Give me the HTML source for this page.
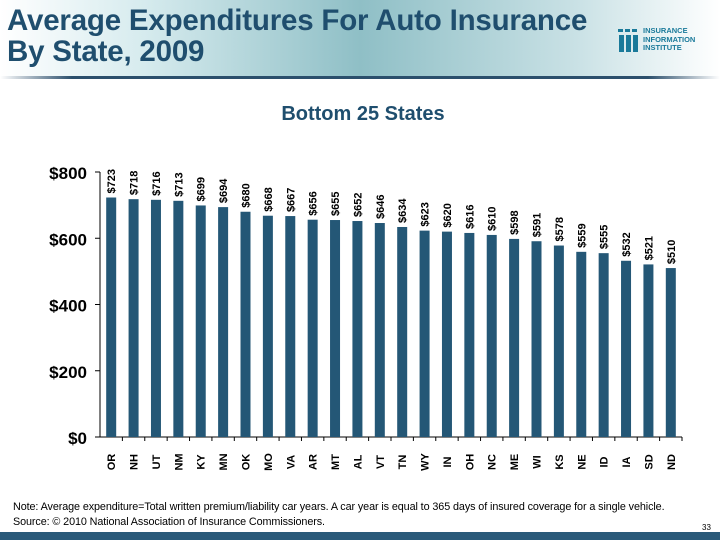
<!DOCTYPE html>
<html><head><meta charset="utf-8"><style>
body{margin:0;width:720px;height:540px;overflow:hidden;background:#fff;font-family:"Liberation Sans",sans-serif;position:relative}
#hdr{position:absolute;left:0;top:0;width:720px;height:78px;background:linear-gradient(90deg,#fff 0%,#d6ebee 20%,#8fbfc6 50%,#c9e1e5 80%,#fff 100%)}
#hdr-line{position:absolute;left:0;top:76px;width:720px;height:3px;background:linear-gradient(90deg,#fff 0%,#2b4f6c 10%,#2b4f6c 90%,#fff 100%)}
h1{position:absolute;left:7px;top:5px;margin:0;font-size:29.5px;line-height:31px;color:#1f4e6e;font-weight:bold;letter-spacing:-0.2px}
#logo{position:absolute;left:616px;top:27px}
#logo-text{position:absolute;left:643px;top:27px;font-size:7.5px;line-height:8.5px;font-weight:bold;color:#1a7a9a}
#note{position:absolute;left:13px;top:500px;font-size:10.8px;line-height:15px;color:#000;letter-spacing:-0.1px}
#pg{position:absolute;left:702px;top:523px;font-size:8px}
#bottom-bar{position:absolute;left:0;top:532px;width:720px;height:8px;background:#2a5a7a}
</style></head><body>
<div id="hdr"></div>
<div id="hdr-line"></div>
<h1>Average Expenditures For Auto Insurance<br>By State, 2009</h1>
<svg id="logo" width="26" height="26">
<rect x="2" y="2" width="5" height="3" fill="#1a7a9a"/><rect x="9" y="2" width="5" height="3" fill="#1a7a9a"/><rect x="16" y="2" width="5" height="3" fill="#1a7a9a"/>
<rect x="3" y="8" width="5" height="17" fill="#1a7a9a"/><rect x="10" y="8" width="5" height="17" fill="#1a7a9a"/><rect x="17" y="8" width="5" height="17" fill="#1a7a9a"/></svg>
<div id="logo-text">INSURANCE<br>INFORMATION<br>INSTITUTE</div>
<svg id="chart" width="720" height="540" style="position:absolute;left:0;top:0">
<text x="363" y="120" text-anchor="middle" font-size="20" font-weight="bold" fill="#1f4e6e">Bottom 25 States</text>
<g id="plot"></g>
</svg>
<div id="note">Note: Average expenditure=Total written premium/liability car years. A car year is equal to 365 days of insured coverage for a single vehicle.<br>Source: © 2010 National Association of Insurance Commissioners.</div>
<div id="pg">33</div>
<div id="bottom-bar"></div>
<script>
const states=["OR","NH","UT","NM","KY","MN","OK","MO","VA","AR","MT","AL","VT","TN","WY","IN","OH","NC","ME","WI","KS","NE","ID","IA","SD","ND"];
const values=[723,718,716,713,699,694,680,668,667,656,655,652,646,634,623,620,616,610,598,591,578,559,555,532,521,510];
const yTicks=[0,200,400,600,800];
const ns="http://www.w3.org/2000/svg";
const g=document.getElementById('plot');
const X0=100,X1=682,Y0=437,Y1=172,YMAX=800;
const cw=(X1-X0)/states.length;
const y=v=>Y0-(v/YMAX)*(Y0-Y1);
const xc=i=>X0+cw*(i+0.5);
function mk(t,a){const e=document.createElementNS(ns,t);for(const k in a)e.setAttribute(k,a[k]);g.appendChild(e);return e;}
let ax=mk('line',{x1:X0,y1:Y1,x2:X0,y2:Y0,stroke:'#000'});


let bx=mk('line',{x1:X0-4,y1:Y0,x2:X1,y2:Y0,stroke:'#000'});


yTicks.forEach(t=>{
 let l=mk('line',{x1:X0-5,y1:y(t),x2:X0,y2:y(t),stroke:'#000'});
 
 
 let tx=mk('text',{x:X0-13,y:y(t)+7,'text-anchor':'end','font-size':'17','font-weight':'bold'});
 tx.textContent='$'+t;
 
 
});
states.forEach((s,i)=>{
 let tk=mk('line',{x1:X0+cw*(i+1),y1:Y0,x2:X0+cw*(i+1),y2:Y0+4,stroke:'#000'});
 
 
 let b=mk('rect',{x:xc(i)-5,y:y(values[i]),width:10,height:Y0-y(values[i]),fill:'#245776'});
 
 
 let vl=mk('text',{transform:`translate(${xc(i)+4},${y(values[i])-4}) rotate(-90)`,'font-size':'11','font-weight':'bold'});
 vl.textContent='$'+values[i];
 
 
 let cl=mk('text',{transform:`translate(${xc(i)+4},${Y0+25}) rotate(-90)`,'text-anchor':'middle','font-size':'11','font-weight':'bold'});
 cl.textContent=s;
 
 
});
</script>
</body></html>
